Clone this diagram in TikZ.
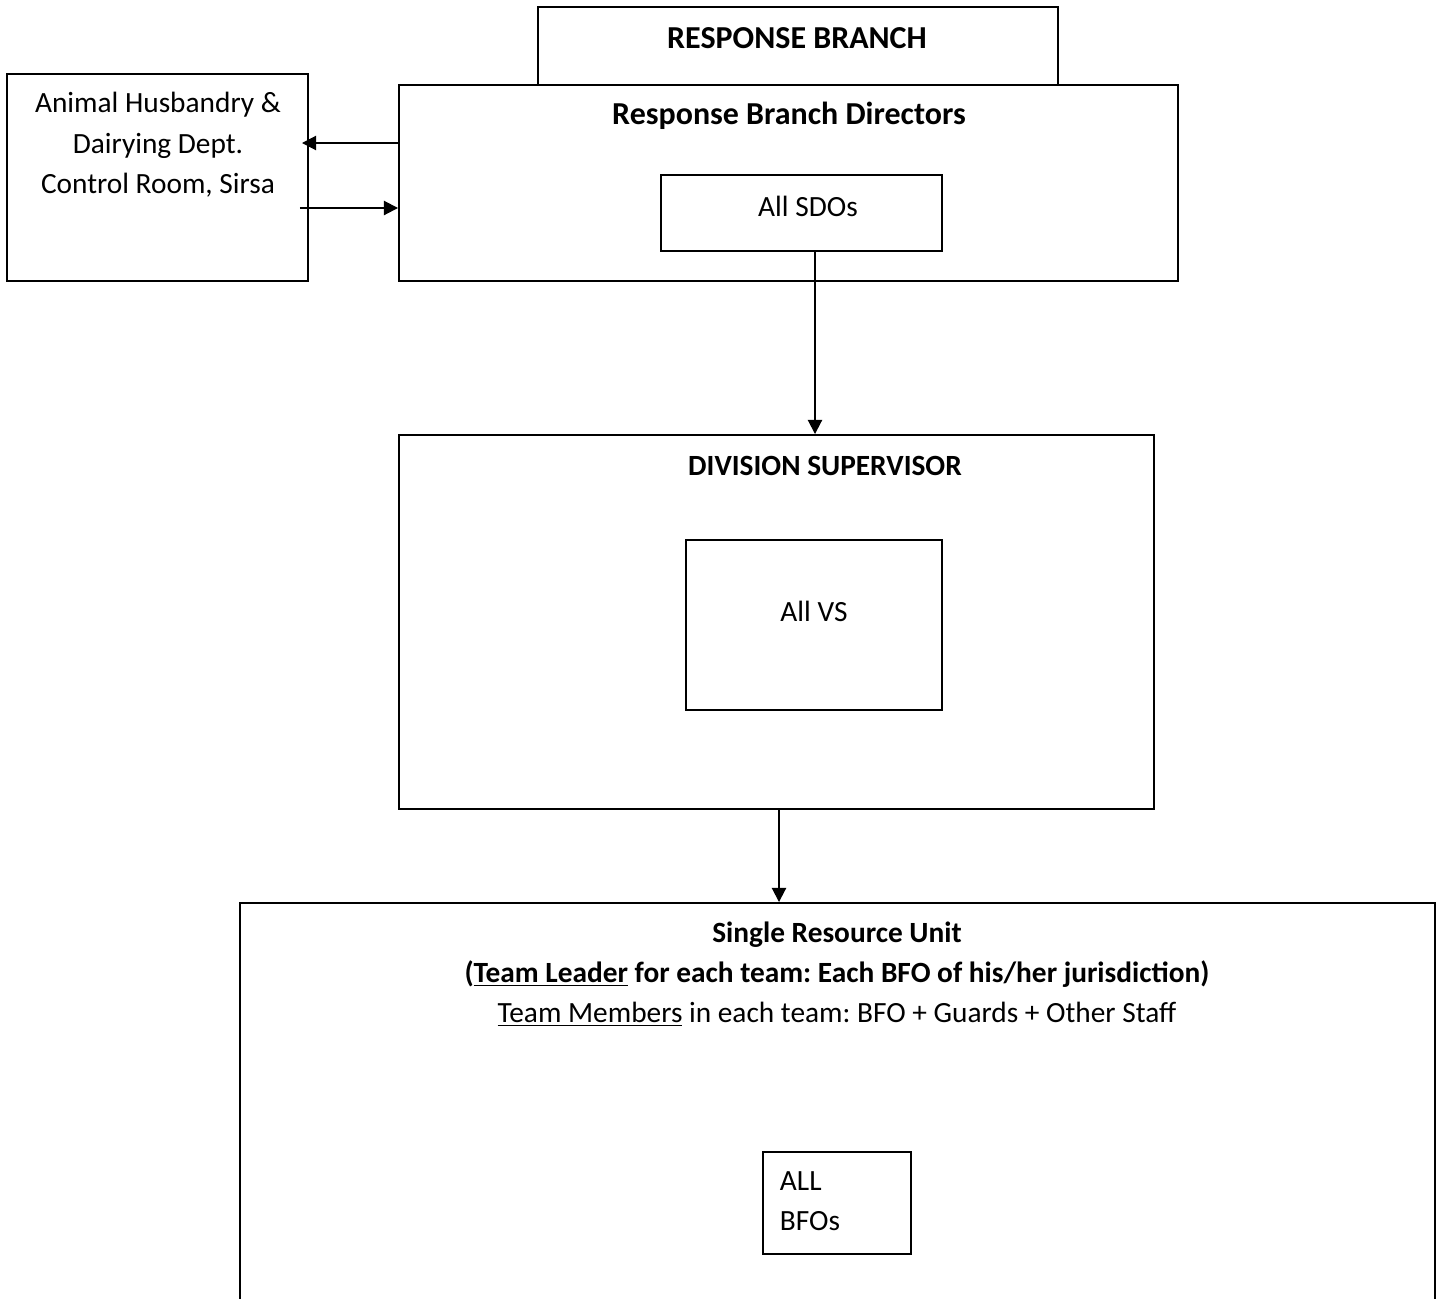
\documentclass[tikz,border=0pt]{standalone}
\usepackage{fontspec}
\setmainfont{Carlito}
\usetikzlibrary{positioning,arrows.meta,calc}
\frenchspacing

\begin{document}
\begin{tikzpicture}[
  box/.style={draw, line width=1.1pt, inner sep=0pt, fill=white},
  txt/.style={font=\fontsize{16.7}{23}\selectfont, align=center, inner sep=0pt},
  bigtxt/.style={txt, font=\fontsize{18.2}{23}\selectfont\bfseries},
  arr/.style={line width=1.1pt, -{Triangle[length=8pt,width=8pt]}}]
  \clip (0,0) rectangle (28.86,-25.98);
  \node[box, minimum width=10.4cm, minimum height=1.56cm] (rb) at (15.96,-0.92) {};
  \node[box, minimum width=15.58cm, minimum height=3.92cm] (dir) at (15.77,-3.66) {};
  \node[box, minimum width=5.62cm, minimum height=1.52cm] (sdo) at (16.03,-4.26) {};
  \node[box, minimum width=6.02cm, minimum height=4.14cm] (ahd) at (3.15,-3.55) {};
  \node[box, minimum width=15.10cm, minimum height=7.48cm] (div) at (15.53,-12.44) {};
  \node[box, minimum width=5.12cm, minimum height=3.40cm] (vs) at (16.28,-12.5) {};
  \node[box, minimum width=23.9cm, minimum height=8.14cm] (sru) at (16.75,-22.13) {};
  \node[box, minimum width=2.96cm, minimum height=2.04cm] (bfo) at (16.74,-24.06) {};

  \node[bigtxt] (rbt) at (15.94,-0.76) {RESPONSE BRANCH};
  \node[bigtxt] (dirt) at (15.78,-2.32) {Response Branch Directors};
  \node[txt] (sdot) at (16.16,-4.12) {All SDOs};
  \node[txt, font=\fontsize{16.7}{23}\selectfont] (ahdt) at (3.16,-2.90) {Animal Husbandry \&\\Dairying Dept.\\Control Room, Sirsa};
  \node[txt, font=\fontsize{16.7}{23}\selectfont\bfseries] (divt) at (16.5,-9.32) {DIVISION SUPERVISOR};
  \node[txt] (vst) at (16.28,-12.22) {All VS};
  \node[txt] (srut) at (16.74,-19.48) {\textbf{Single Resource Unit}\\
    \textbf{(\underline{Team Leader} for each team: Each BFO of his/her jurisdiction)}\\
    \underline{Team Members} in each team: BFO + Guards + Other Staff};
  \node[txt, align=left] (bfot) at (16.2,-24.02) {ALL\\BFOs};

  \draw[arr, shorten >=-0.14cm] ([yshift=0.8cm]dir.west) -- ([yshift=0.8cm]dir.west -| ahd.east);
  \draw[arr] ([yshift=-0.5cm, xshift=-0.18cm]dir.west -| ahd.east) -- ([yshift=-0.5cm]dir.west);
  \draw[arr] ([xshift=0.27cm]sdo.south) -- ([xshift=0.27cm]sdo.south |- div.north);
  \draw[arr] ([xshift=0.05cm]div.south) -- ([xshift=0.05cm]div.south |- sru.north);
\end{tikzpicture}
\end{document}
